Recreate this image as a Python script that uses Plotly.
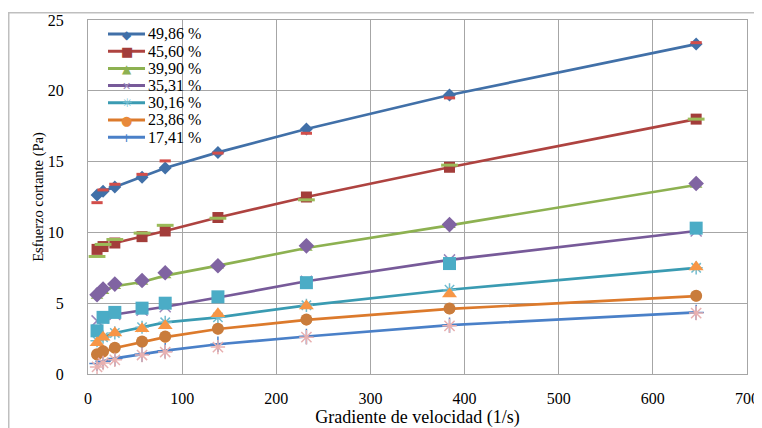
import plotly.graph_objects as go

# shear rate (1/s)
shear = [9.6, 16, 28.5, 57.4, 82, 138, 232, 384, 646]

labels = ["49,86 %", "45,60 %", "39,90 %", "35,31 %", "30,16 %", "23,86 %", "17,41 %"]

# series drawn with lines (values on the curves)
s4986 = [12.65, 12.9, 13.2, 13.9, 14.55, 15.65, 17.3, 19.7, 23.3]
s4560 = [8.8, 9.0, 9.25, 9.7, 10.1, 11.05, 12.5, 14.6, 18.0]
s3990 = [5.5, 5.85, 6.2, 6.5, 6.95, 7.65, 8.9, 10.5, 13.35]
s3531 = [3.75, 3.95, 4.2, 4.5, 4.75, 5.4, 6.55, 8.06, 10.1]
s3016 = [2.35, 2.6, 2.9, 3.3, 3.65, 4.0, 4.85, 5.95, 7.5]
s2386 = [1.35, 1.55, 1.84, 2.26, 2.6, 3.18, 3.82, 4.6, 5.5]
s1741 = [0.75, 0.9, 1.1, 1.4, 1.65, 2.1, 2.65, 3.45, 4.35]

# second set of markers (measured points)
m4986 = [12.1, 13.0, 13.4, 14.1, 15.05, 15.6, 17.0, 19.5, 23.4]
m4560 = [8.3, 9.15, 9.5, 9.95, 10.5, 11.0, 12.3, 14.75, 18.0]
m3990 = [5.6, 6.0, 6.35, 6.6, 7.15, 7.65, 9.05, 10.55, 13.45]
m3531 = [3.05, 4.0, 4.35, 4.65, 5.0, 5.45, 6.45, 7.8, 10.3]
m3016 = [2.2, 2.6, 2.9, 3.2, 3.4, 4.25, 4.8, 5.65, 7.56]
m2386 = [1.4, 1.6, 1.85, 2.3, 2.65, 3.2, 3.85, 4.62, 5.52]
m1741 = [0.5, 0.78, 1.0, 1.34, 1.55, 1.9, 2.6, 3.4, 4.3]

line_series = [s4986, s4560, s3990, s3531, s3016, s2386, s1741]
mark_series = [m4986, m4560, m3990, m3531, m3016, m2386, m1741]

line_colors = ["#4170A8", "#AE4340", "#8DB151", "#775A99", "#3A9BB2", "#DC7A2C", "#4A80C8"]
line_symbols = ["diamond", "square", "triangle-up", "x-thin-open", "asterisk-open", "circle", "cross-thin-open"]
line_msizes = [10, 11, 11, 11, 11, 11, 11]
line_mcolors = ["#4170A8", "#A33D3A", "#8DB151", "#9A86BA", "#6FBCD0", "#E8893A", "#4A80C8"]
legend_glyphs = ["◆", "■", "▲", "✕", "✳", "●", "+"]
legend_gsizes = [12, 13, 12, 11, 12, 13, 13]

mark_colors = ["#D24E4A", "#9BBB59", "#8064A2", "#4BACC6", "#F79646", "#C97C3C", "#E8B0B0"]
mark_symbols = ["line-ew-open", "line-ew-open", "diamond", "square", "triangle-up", "circle", "asterisk-open"]
mark_sizes = [8, 12, 12, 13, 13, 12, 12]

fig = go.Figure()

for i in range(7):
    sym = line_symbols[i]
    is_open = sym.endswith("open")
    fig.add_trace(go.Scatter(
        x=shear, y=line_series[i], name=labels[i], mode="lines+markers", showlegend=False,
        line=dict(color=line_colors[i], width=2.7),
        marker=dict(symbol=sym, size=line_msizes[i], color=line_mcolors[i],
                    line=dict(color=line_mcolors[i], width=1.5 if is_open else 0)),
    ))

for i in range(7):
    sym = mark_symbols[i]
    is_open = sym.endswith("open")
    fig.add_trace(go.Scatter(
        x=shear, y=mark_series[i], mode="markers", showlegend=False, name=labels[i],
        marker=dict(symbol=sym, size=mark_sizes[i], color=mark_colors[i],
                    line=dict(color=mark_colors[i], width=3 if sym.startswith("line") else (1.5 if is_open else 0))),
    ))

# page offset (browser body margin) and plot area geometry in figure pixels
OFF = 8
L, R, T, B = 88 - OFF, 747 - OFF, 20 - OFF, 374 - OFF
W, H = R - L, B - T

def px(x_page):
    return (x_page - OFF - L) / W

def py(y_page):
    return (B - (y_page - OFF)) / H

shapes = [dict(type="rect", xref="paper", yref="paper",
               x0=px(8.75), x1=px(790), y0=py(460), y1=py(12.75),
               line=dict(color="#BFBFBF", width=1.5), fillcolor="rgba(0,0,0,0)", layer="below")]
annotations = []
row0, step = 34, 17.2
for i in range(7):
    yc = row0 + i * step
    shapes.append(dict(type="line", xref="paper", yref="paper",
                       x0=px(108), x1=px(145), y0=py(yc), y1=py(yc),
                       line=dict(color=line_colors[i], width=3)))
    annotations.append(dict(xref="paper", yref="paper", x=px(126.5), y=py(yc + 0.5),
                            text=legend_glyphs[i], showarrow=False, xanchor="center", yanchor="middle",
                            font=dict(family="DejaVu Sans", size=legend_gsizes[i], color=line_mcolors[i])))
    annotations.append(dict(xref="paper", yref="paper", x=px(146), y=py(yc),
                            text=labels[i], showarrow=False, xanchor="left", yanchor="middle",
                            font=dict(family="Liberation Serif", size=16, color="#000000")))

axis_font = dict(family="Liberation Serif", size=16, color="#000000")

fig.update_layout(
    width=762, height=428,
    margin=dict(l=L, r=762 - R, t=T, b=428 - B, autoexpand=False),
    paper_bgcolor="white", plot_bgcolor="white",
    font=dict(family="Liberation Serif", color="#000000"),
    showlegend=False,
    xaxis=dict(range=[0, 700], dtick=100, tick0=0, showgrid=True, gridcolor="#A6A6A6", gridwidth=1,
               showline=True, linecolor="#A6A6A6", linewidth=1, mirror=True, zeroline=False,
               ticks="", tickfont=axis_font, ticklabelstandoff=10, automargin=False,
               title=dict(text="Gradiente de velocidad (1/s)", font=dict(family="Liberation Serif", size=18), standoff=1)),
    yaxis=dict(range=[0, 25], dtick=5, tick0=0, showgrid=True, gridcolor="#A6A6A6", gridwidth=1,
               showline=True, linecolor="#A6A6A6", linewidth=1, mirror=True, zeroline=False,
               ticks="", tickfont=axis_font, ticklabelstandoff=20, automargin=False,
               title=dict(text="Esfuerzo cortante (Pa)", font=dict(family="Liberation Serif", size=14.5), standoff=0)),
    shapes=shapes,
    annotations=annotations,
)

fig.write_html("out.html")
